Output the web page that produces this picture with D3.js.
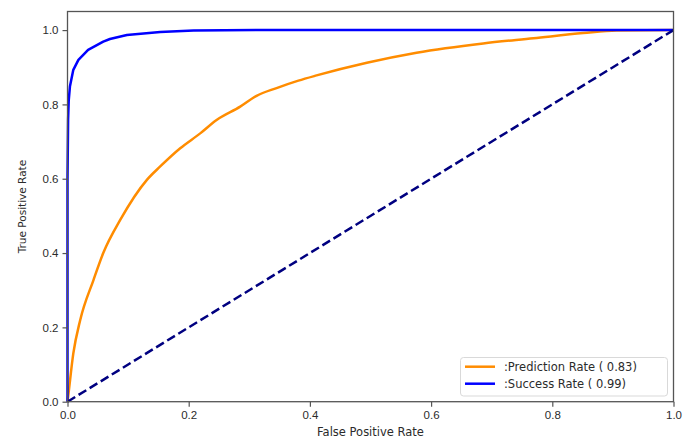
<!DOCTYPE html>
<html>
<head>
<meta charset="utf-8">
<script src="https://cdn.jsdelivr.net/npm/d3@7"></script>
<style>
  body { margin: 0; background: #fff; }
  svg { display: block; font-family: "DejaVu Sans", sans-serif; }
  .tick text { fill: #2b2b2b; font-size: 11.5px; }
  .tick line, .domain { stroke: #555; }
</style>
</head>
<body>
<svg id="chart" width="693" height="439"></svg>
<script>
// ROC points
var predictionFpr = [0, 0.001, 0.0096, 0.021, 0.043, 0.059, 0.087, 0.131, 0.153, 0.186, 0.219, 0.246, 0.285, 0.312, 0.345, 0.381, 0.411, 0.494, 0.576, 0.686, 0.769, 0.851, 0.906, 1.0];
var predictionTpr = [0, 0.013, 0.130, 0.22, 0.328, 0.40, 0.489, 0.597, 0.633, 0.682, 0.722, 0.758, 0.794, 0.823, 0.844, 0.864, 0.878, 0.912, 0.939, 0.964, 0.978, 0.992, 0.999, 1.0];

var successFpr = [0, 0, 0.001, 0.002, 0.004, 0.0096, 0.018, 0.034, 0.059, 0.07, 0.098, 0.153, 0.208, 0.318, 1.0];
var successTpr = [0, 0.6, 0.76, 0.81, 0.848, 0.893, 0.92, 0.947, 0.969, 0.976, 0.987, 0.995, 0.999, 1.0, 1.0];

var chanceFpr = [0, 1];
var chanceTpr = [0, 1];

var xTicks = [0, 0.2, 0.4, 0.6, 0.8, 1.0];
var yTicks = [0, 0.2, 0.4, 0.6, 0.8, 1.0];

var legendLabels = [':Prediction Rate ( 0.83)', ':Success Rate ( 0.99)'];

var svg = d3.select('#chart');

var plotLeft = 67.5, plotRight = 673.5, plotTop = 11.5, plotBottom = 401.7;

var x = d3.scaleLinear().domain([0, 1]).range([plotLeft, plotRight]);
var y = d3.scaleLinear().domain([0, 1.05]).range([plotBottom, plotTop]);

function zip(xs, ys) {
    return xs.map(function(d, i) { return [d, ys[i]]; });
}

var line = d3.line()
    .x(function(d) { return x(d[0]); })
    .y(function(d) { return y(d[1]); });

var smoothLine = d3.line()
    .x(function(d) { return x(d[0]); })
    .y(function(d) { return y(d[1]); })
    .curve(d3.curveMonotoneX);

svg.append('path')
    .datum(zip(predictionFpr, predictionTpr))
    .attr('d', smoothLine)
    .attr('fill', 'none')
    .attr('stroke', '#ff8c00')
    .attr('stroke-width', 2.5)
    .attr('stroke-linejoin', 'round');

svg.append('path')
    .datum(zip(successFpr, successTpr))
    .attr('d', line)
    .attr('fill', 'none')
    .attr('stroke', '#0000ff')
    .attr('stroke-width', 2.5)
    .attr('stroke-linejoin', 'round');

svg.append('path')
    .datum(zip(chanceFpr, chanceTpr))
    .attr('d', line)
    .attr('fill', 'none')
    .attr('stroke', '#000080')
    .attr('stroke-width', 2.5)
    .attr('stroke-dasharray', '9,4');

// axes
svg.append('g')
    .attr('transform', 'translate(0,' + plotBottom + ')')
    .call(d3.axisBottom(x).tickValues(xTicks).tickFormat(d3.format('.1f')).tickSize(5).tickSizeOuter(0).tickPadding(4));

svg.append('g')
    .attr('transform', 'translate(' + plotLeft + ',0)')
    .call(d3.axisLeft(y).tickValues(yTicks).tickFormat(d3.format('.1f')).tickSize(5).tickSizeOuter(0).tickPadding(4));

svg.selectAll('.domain').remove();
svg.selectAll('.tick line').attr('stroke-width', 1.2);

// frame
svg.append('rect')
    .attr('x', plotLeft)
    .attr('y', plotTop)
    .attr('width', plotRight - plotLeft)
    .attr('height', plotBottom - plotTop)
    .attr('fill', 'none')
    .attr('stroke', '#555')
    .attr('stroke-width', 1.3);

svg.append('text')
    .attr('x', (plotLeft + plotRight) / 2)
    .attr('y', 436)
    .attr('text-anchor', 'middle')
    .attr('font-size', 11.5)
    .attr('fill', '#2b2b2b')
    .text('False Positive Rate');

svg.append('text')
    .attr('transform', 'translate(26,' + ((plotTop + plotBottom) / 2) + ') rotate(-90)')
    .attr('text-anchor', 'middle')
    .attr('font-size', 10.5)
    .attr('fill', '#2b2b2b')
    .text('True Positive Rate');

// legend
var legend = svg.append('g');
legend.append('rect')
    .attr('x', 460.5)
    .attr('y', 357.5)
    .attr('width', 207)
    .attr('height', 38.5)
    .attr('rx', 3)
    .attr('fill', '#fff')
    .attr('fill-opacity', 0.8)
    .attr('stroke', '#d9d9d9');

var legendColors = ['#ff8c00', '#0000ff'];
legendLabels.forEach(function(label, i) {
    var ly = 366.7 + i * 17;
    legend.append('line')
        .attr('x1', 465).attr('x2', 495)
        .attr('y1', ly).attr('y2', ly)
        .attr('stroke', legendColors[i])
        .attr('stroke-width', 2.5);
    legend.append('text')
        .attr('x', 504)
        .attr('y', ly + 4)
        .attr('font-size', 11.5)
        .attr('fill', '#2b2b2b')
        .text(label);
});
</script>
</body>
</html>
